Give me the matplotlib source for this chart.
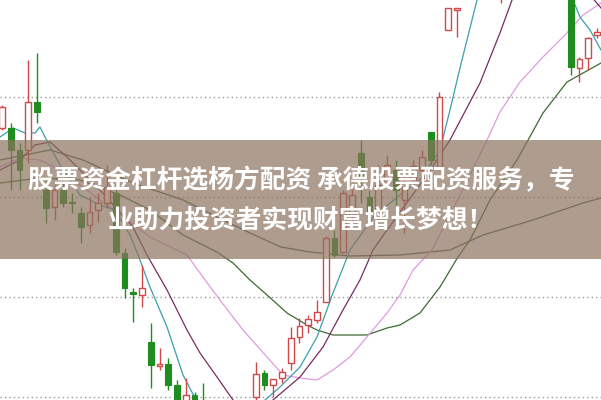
import numpy as np
import matplotlib.pyplot as plt
from matplotlib.patches import Rectangle

plt.rcParams['font.family'] = ['Noto Sans CJK SC', 'DejaVu Sans']

nan = np.nan

# daily candles (price units, dotted grid lines at 10, 11, 12, 13)
# nan = candle lies outside the visible window
opens = [12.69, 12.69, 12.47, 12.47, 12.95, 12.07, 11.90, 12.07, 11.95, 11.84,
         11.72, 11.87, 11.94, 12.04, 11.44, 11.05, 11.02, 10.55, 10.31, 10.33,
         10.12, 9.77, 10.02, 9.87, nan, nan, nan, nan, nan, 10.00,
         10.24, 10.12, 10.19, 10.34, 10.60, 10.72, 10.77, 10.95, 11.59, 11.45,
         11.82, 12.44, 12.00, 11.87, 12.14, 12.27, 11.97, 12.17, 12.27, 12.65,
         12.30, 13.67, 13.87, nan, nan, nan, nan, 14.30, nan, nan,
         nan, nan, nan, nan, nan, 14.30, 13.29, 13.39, 13.62]
closes = [12.90, 12.47, 12.27, 12.95, 12.85, 11.89, 12.07, 11.94, 11.94, 11.70,
          11.85, 11.94, 12.10, 11.45, 11.09, 11.03, 11.09, 10.32, 10.33, 10.12,
          9.82, 10.02, 9.77, 9.67, nan, nan, nan, nan, nan, 10.23,
          10.12, 10.18, 10.25, 10.59, 10.71, 10.78, 10.85, 11.59, 11.42, 12.04,
          12.02, 12.20, 11.84, 12.12, 12.32, 12.07, 12.15, 12.31, 12.40, 12.37,
          13.00, 13.89, 13.89, nan, nan, nan, nan, 14.50, nan, nan,
          nan, nan, nan, nan, nan, 13.30, 13.38, 13.59, 13.65]
highs = [12.92, 12.74, 12.54, 13.37, 13.44, 12.17, 12.12, 12.14, 12.04, 11.90,
         12.00, 12.04, 12.32, 12.10, 11.49, 11.09, 11.32, 10.74, 10.49, 10.39,
         10.17, 10.19, 10.05, 10.14, nan, nan, nan, nan, nan, 10.35,
         10.27, 10.18, 10.29, 10.70, 10.79, 10.82, 10.97, 11.61, 11.67, 12.07,
         12.15, 12.57, 12.07, 12.32, 12.42, 12.37, 12.25, 12.37, 12.47, 12.65,
         13.05, 13.89, 13.89, nan, nan, nan, nan, 14.60, nan, nan,
         nan, nan, nan, nan, nan, 14.40, 13.40, 13.60, 13.69]
lows = [12.67, 12.07, 12.07, 12.34, 12.74, 11.74, 11.77, 11.90, 11.84, 11.54,
        11.64, 11.75, 11.89, 11.42, 10.99, 10.75, 10.90, 10.09, 10.27, 10.07,
        9.72, 9.67, 9.67, 9.57, nan, nan, nan, nan, nan, 9.92,
        10.07, 10.00, 10.14, 10.27, 10.54, 10.64, 10.74, 10.95, 11.40, 11.44,
        11.72, 11.94, 11.72, 11.77, 12.10, 11.92, 11.64, 12.12, 12.20, 12.32,
        12.27, 13.67, 13.60, nan, nan, nan, nan, 13.94, nan, nan,
        nan, nan, nan, nan, nan, 13.22, 13.15, 13.27, 13.59]

# moving average lines, read as (candle index, price) points
ma5_x = [-0.23, 1.26, 2.63, 3.77, 4.34, 4.91, 6.63, 8.91, 11.2, 12.91, 14.63, 15.77,
         16.91, 18.86, 20.69, 22.29, 23.77, 27.2, 30.06, 31.77, 34.06, 36.0, 37.83,
         39.77, 42.63, 45.49, 47.77, 50.06, 51.2, 52.34, 54.29, 55.77, 63.77, 65.26,
         66.06, 67.2, 68.46]
ma5_y = [12.60, 12.69, 12.64, 12.64, 12.70, 12.60, 12.32, 12.02, 11.92, 11.87, 11.62,
         11.37, 11.10, 10.70, 10.22, 9.95, 9.77, 9.57, 9.97, 10.10, 10.30, 10.60,
         11.04, 11.47, 11.82, 12.02, 12.17, 12.47, 12.87, 13.29, 13.97, 14.37, 14.37,
         13.97, 13.80, 13.67, 13.47]

ma10_x = [-0.23, 2.06, 3.77, 5.49, 7.43, 11.2, 14.97, 16.57, 18.86, 21.14, 22.63,
          24.57, 26.4, 28.34, 30.06, 30.97, 34.06, 36.69, 38.97, 40.91, 42.4, 45.49,
          48.34, 51.2, 54.63, 56.91, 58.29, 59.77, 65.49, 67.2, 68.46]
ma10_y = [12.27, 12.37, 12.52, 12.55, 12.40, 12.07, 11.70, 11.42, 11.07, 10.67,
          10.44, 10.20, 9.97, 9.77, 9.82, 9.97, 10.20, 10.50, 10.87, 11.17, 11.47,
          11.85, 12.19, 12.57, 13.14, 13.64, 13.97, 14.37, 14.37, 14.02, 13.89]

ma20_x = [-0.23, 2.06, 4.34, 6.63, 11.2, 16.91, 21.14, 22.63, 24.91, 27.54, 30.29,
          32.11, 34.06, 36.0, 37.83, 39.77, 41.71, 44.0, 45.49, 46.97, 49.14, 51.77,
          53.49, 55.43, 56.91, 59.2, 61.83, 64.34, 66.4, 68.46]
ma20_y = [12.30, 12.39, 12.37, 12.27, 11.97, 11.60, 11.42, 11.24, 10.97, 10.67,
          10.40, 10.22, 10.19, 10.17, 10.27, 10.40, 10.60, 10.84, 11.02, 11.27,
          11.47, 11.92, 12.22, 12.57, 12.85, 13.15, 13.40, 13.62, 13.82, 13.94]

ma30_x = [-0.23, 4.34, 8.91, 13.49, 16.91, 20.69, 24.57, 26.4, 28.34, 30.29, 32.57,
          34.86, 36.0, 37.83, 41.71, 44.0, 45.49, 47.77, 50.06, 52.11, 53.49, 55.77,
          58.86, 61.83, 64.57, 68.46]
ma30_y = [12.14, 12.19, 12.17, 12.02, 11.87, 11.62, 11.45, 11.34, 11.17, 11.02,
          10.84, 10.72, 10.67, 10.62, 10.62, 10.69, 10.72, 10.84, 11.10, 11.40,
          11.57, 11.97, 12.37, 12.84, 13.15, 13.34]

ma60_x = [-0.23, 5.49, 9.26, 14.97, 20.69, 24.57, 28.34, 31.89, 35.2, 39.77, 45.49,
          51.2, 54.97, 60.69, 66.4, 68.46]
ma60_y = [12.37, 12.47, 12.37, 12.14, 11.97, 11.80, 11.64, 11.50, 11.45, 11.41,
          11.42, 11.47, 11.62, 11.77, 11.94, 11.99]

line1 = "股票资金杠杆选杨方配资 承德股票配资服务，专"
line2 = "业助力投资者实现财富增长梦想！"

red = "#d04848"
green = "#1f8c1f"

fig = plt.figure(figsize=(6.01, 4.00), dpi=100)
ax = fig.add_axes([0, 0, 1, 1])
ax.set_xlim(-0.23, 68.46)
ax.set_ylim(9.97, 13.97)
ax.axis("off")

for level in [10, 11, 12, 13]:
    ax.axhline(level, color="#9a9a9a", lw=1.0, ls=(0, (1, 2.2)), zorder=1)

ax.plot(ma60_x, ma60_y, color="#4f5f4a", lw=0.9, zorder=2)
ax.plot(ma30_x, ma30_y, color="#3d6b33", lw=0.9, zorder=2)
ax.plot(ma20_x, ma20_y, color="#e29ae0", lw=0.9, zorder=2)
ax.plot(ma10_x, ma10_y, color="#7a2a62", lw=0.9, zorder=2)
ax.plot(ma5_x, ma5_y, color="#3a9fae", lw=0.9, zorder=2)

w = 0.68
for i in range(len(opens)):
    o, c, h, l = opens[i], closes[i], highs[i], lows[i]
    if np.isnan(o):
        continue
    up = c >= o
    col = red if up else green
    ax.vlines(i, l, h, color=col, lw=1.0, zorder=3)
    bottom = min(o, c)
    height = max(abs(c - o), 0.012)
    if up:
        ax.bar(i, height, w, bottom=bottom, facecolor="white", edgecolor=col,
               linewidth=1.0, zorder=4)
    else:
        ax.bar(i, height, w, bottom=bottom, facecolor=col, edgecolor=col,
               linewidth=0.8, zorder=4)

# caption banner
ax.add_patch(Rectangle((0, 1 - 259 / 400), 1, 119 / 400, transform=ax.transAxes,
                       facecolor=(0.55, 0.45, 0.37), alpha=0.7, edgecolor="none",
                       zorder=5))
ax.text(0.502, 1 - 181 / 400, line1, transform=ax.transAxes, ha="center", va="center",
        color="white", fontsize=18.5, fontweight="bold", zorder=6)
ax.text(0.501, 1 - 220 / 400, line2, transform=ax.transAxes, ha="center", va="center",
        color="white", fontsize=18.5, fontweight="bold", zorder=6)

fig.savefig("out.png", dpi=100)
